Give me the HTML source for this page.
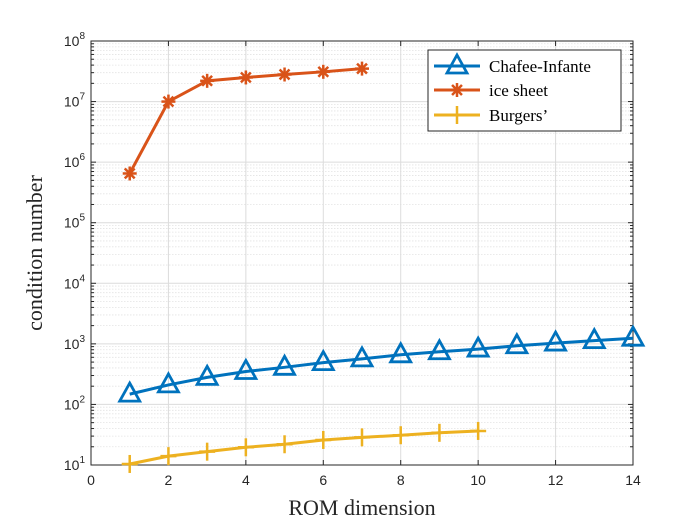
<!DOCTYPE html>
<html><head><meta charset="utf-8"><style>
body{margin:0;background:#fff}
svg{display:block;font-family:"Liberation Serif",serif}
</style></head><body>
<svg id="c" width="700" height="525" viewBox="0 0 700 525"></svg>
<script>
const xTicks=[0,2,4,6,8,10,12,14];
const yExps=[1,2,3,4,5,6,7,8];
const chafeeX=[1,2,3,4,5,6,7,8,9,10,11,12,13,14];
const chafeeY=[148,210,280,350,410,490,565,660,740,820,930,1030,1130,1240];
const iceX=[1,2,3,4,5,6,7];
const iceY=[6.5e5,1.0e7,2.2e7,2.5e7,2.8e7,3.1e7,3.5e7];
const burgX=[1,2,3,4,5,6,7,8,9,10];
const burgY=[10.4,14,16.6,19.6,22,25.9,28.6,31,34,36.5];
const L=91,R=633,T=41,B=465;
const sx=v=>L+(v-0)/(14-0)*(R-L);
const sy=v=>B-(Math.log10(v)-1)/7*(B-T);
const NS="http://www.w3.org/2000/svg";
const svg=document.getElementById('c');
function mk(t,a,p){const e=document.createElementNS(NS,t);for(const k in a)e.setAttribute(k,a[k]);(p||svg).appendChild(e);return e;}
const g=mk('g',{});


for(let e=1;e<8;e++)for(let m=2;m<10;m++){const y=sy(m*Math.pow(10,e));mk('line',{x1:L,x2:R,y1:y,y2:y,stroke:'#e3e3e3','stroke-width':0.8,'stroke-dasharray':'1.5,1.5'},g);}
yExps.forEach(e=>{const y=sy(Math.pow(10,e));mk('line',{x1:L,x2:R,y1:y,y2:y,stroke:'#dcdcdc','stroke-width':1},g);});
xTicks.forEach(v=>{const x=sx(v);mk('line',{x1:x,x2:x,y1:T,y2:B,stroke:'#dcdcdc','stroke-width':1},g);});
const ax=mk('g',{});


mk('rect',{x:L,y:T,width:R-L,height:B-T,fill:'none',stroke:'#262626','stroke-width':1},ax);
xTicks.forEach(v=>{const x=sx(v);mk('line',{x1:x,x2:x,y1:B,y2:B-5,stroke:'#262626'},ax);mk('line',{x1:x,x2:x,y1:T,y2:T+5,stroke:'#262626'},ax);
 const t=mk('text',{x:x,y:B+20,'text-anchor':'middle','font-size':14,fill:'#262626','font-family':'Liberation Sans, sans-serif'},ax);t.textContent=v;
 
 });
for(let e=1;e<8;e++)for(let m=1;m<10;m++){const y=sy(m*Math.pow(10,e));const w=m==1?5:3;mk('line',{x1:L,x2:L+w,y1:y,y2:y,stroke:'#262626'},ax);mk('line',{x1:R,x2:R-w,y1:y,y2:y,stroke:'#262626'},ax);}
yExps.forEach(e=>{const y=sy(Math.pow(10,e));const t=mk('text',{x:L-6,y:y+5,'text-anchor':'end','font-size':14,fill:'#262626','font-family':'Liberation Sans, sans-serif'},ax);
 t.innerHTML='10<tspan dy="-7" font-size="10">'+e+'</tspan>';
 
 });
const xl=mk('text',{x:(L+R)/2,y:515,'text-anchor':'middle','font-size':22,fill:'#262626'});xl.textContent='ROM dimension';


const yl=mk('text',{x:0,y:0,transform:'translate(42,253) rotate(-90)','text-anchor':'middle','font-size':22,fill:'#262626'});yl.textContent='condition number';


function marker(type,x,y,c,p){
 if(type=='tri'){mk('polygon',{points:`${x},${y-11} ${x+10},${y+7} ${x-10},${y+7}`,fill:'none',stroke:c,'stroke-width':2.8},p);}
 else if(type=='star'){for(let a=0;a<180;a+=45){const r=a*Math.PI/180,dx=7*Math.cos(r),dy=7*Math.sin(r);mk('line',{x1:x-dx,y1:y-dy,x2:x+dx,y2:y+dy,stroke:c,'stroke-width':2.5},p);}}
 else {mk('line',{x1:x-8,x2:x+8,y1:y,y2:y,stroke:c,'stroke-width':2.5},p);mk('line',{x1:x,x2:x,y1:y-9,y2:y+9,stroke:c,'stroke-width':2.5},p);}
}
function series(name,xs,ys,c,type){
 const s=mk('g',{});
 
 
 mk('polyline',{points:xs.map((v,i)=>sx(v)+','+sy(ys[i])).join(' '),fill:'none',stroke:c,'stroke-width':3},s);
 xs.forEach((v,i)=>marker(type,sx(v),sy(ys[i]),c,s));
}
series('chafee-infante-series',chafeeX,chafeeY,'#0072BD','tri');
series('ice-sheet-series',iceX,iceY,'#D95319','star');
series('burgers-series',burgX,burgY,'#EDB120','plus');
const lg=mk('g',{});


mk('rect',{x:428,y:50,width:193,height:81,fill:'#fff',stroke:'#262626','stroke-width':1},lg);
[['Chafee-Infante','#0072BD','tri',66],['ice sheet','#D95319','star',90],['Burgers\u2019','#EDB120','plus',115]].forEach(([n,c,t,y])=>{
 const e=mk('g',{},lg);
 
 
 mk('line',{x1:434,x2:480,y1:y,y2:y,stroke:c,'stroke-width':3},e);
 marker(t,457,y,c,e);
 const tx=mk('text',{x:489,y:y+6,'font-size':17,fill:'#000'},e);tx.textContent=n;
});
</script>
</body></html>
